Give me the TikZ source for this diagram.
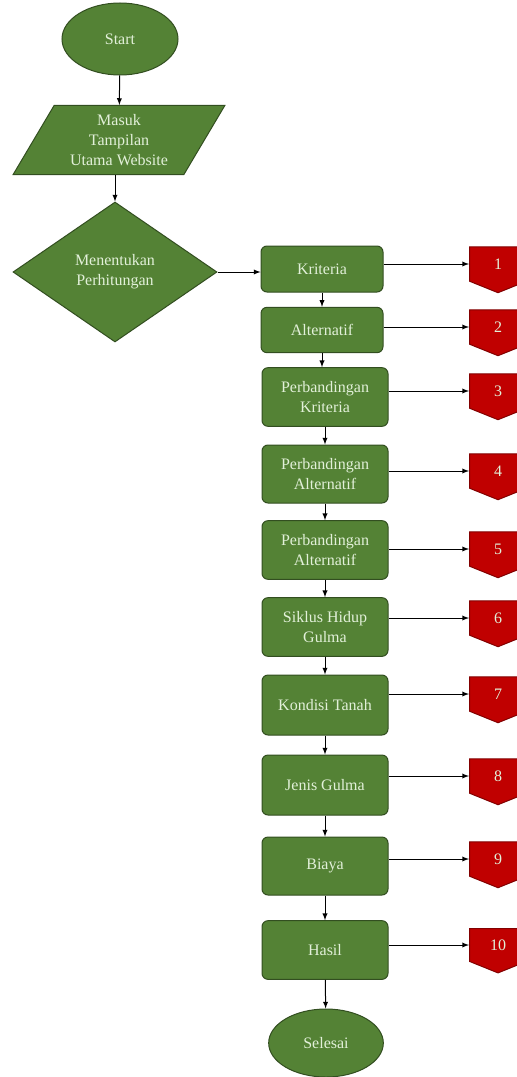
\documentclass[tikz,border=0pt]{standalone}
\usepackage{fontspec}
\setmainfont{Liberation Serif}
\usetikzlibrary{arrows,shapes,shapes.geometric,shapes.symbols,positioning}
\definecolor{boxgreen}{RGB}{84,130,53}
\definecolor{boxline}{RGB}{50,78,32}
\definecolor{boxtext}{RGB}{226,240,217}
\definecolor{pagered}{RGB}{192,0,0}
\definecolor{pageline}{RGB}{130,0,0}

\begin{document}
\begin{tikzpicture}[x=0.75pt,y=-0.75pt,>=latex,line width=0.75pt,
  proc/.style={rectangle,rounded corners=4.5pt,draw=boxline,fill=boxgreen,text=boxtext,minimum width=94.5pt,align=center,font=\fontsize{12}{15}\selectfont},
  term/.style={ellipse,draw=boxline,fill=boxgreen,text=boxtext,font=\fontsize{12}{15}\selectfont},
  offpage/.style={signal,signal to=south,signal pointer angle=136,draw=pageline,fill=pagered,text=boxtext,minimum width=42.75pt,minimum height=27pt,inner sep=0pt,font=\fontsize{12}{15}\selectfont},
  flow/.style={->,black}]
\useasboundingbox (0,0) rectangle (517,1077);

% main column
\node [term,minimum width=87pt,minimum height=54pt] (start) at (120,39) {Start};
\node [trapezium,trapezium left angle=59,trapezium right angle=121,trapezium stretches=true,
  draw=boxline,fill=boxgreen,text=boxtext,align=center,font=\fontsize{12}{15}\selectfont,
  minimum width=159pt,minimum height=51.75pt,inner sep=0pt] (masuk) at (119,140) {Masuk\\Tampilan\\Utama Website};
\node [diamond,draw=boxline,fill=boxgreen,text=boxtext,align=center,font=\fontsize{12}{15}\selectfont,
  minimum width=153pt,minimum height=105pt,inner sep=0pt] (tentu) at (115,272) {Menentukan\\Perhitungan};

% steps
\node [proc,minimum width=91.5pt,minimum height=34.5pt] (kri) at (322,269) {Kriteria};
\node [proc,minimum width=91.5pt,minimum height=34pt] (alt) at (322,330) {Alternatif};
\node [proc,minimum height=44pt] (pk) at (325,397) {Perbandingan\\Kriteria};
\node [proc,minimum height=43.5pt] (pa) at (325,474) {Perbandingan\\Alternatif};
\node [proc,minimum height=44pt] (pb) at (325,550) {Perbandingan\\Alternatif};
\node [proc,minimum height=44pt] (siklus) at (325,627) {Siklus Hidup\\Gulma};
\node [proc,minimum height=45pt] (tanah) at (325,705) {Kondisi Tanah};
\node [proc,minimum height=45pt] (jenis) at (325,785) {Jenis Gulma};
\node [proc,minimum height=43.5pt] (biaya) at (325,866) {Biaya};
\node [proc,minimum height=44pt] (hasil) at (325,950) {Hasil};
\node [term,minimum width=86pt,minimum height=51pt] (selesai) at (326,1043) {Selesai};

% off page links
\node [offpage] (p1) at (498,264) {1};
\node [offpage] (p2) at (498,327) {2};
\node [offpage] (p3) at (498,391) {3};
\node [offpage] (p4) at (498,471) {4};
\node [offpage] (p5) at (498,549) {5};
\node [offpage] (p6) at (498,618) {6};
\node [offpage] (p7) at (498,694) {7};
\node [offpage] (p8) at (498,776) {8};
\node [offpage] (p9) at (498,859) {9};
\node [offpage] (p10) at (498,945) {10};

% arrows
\draw [flow] (start) -- (masuk);
\draw [flow] (masuk.south -| tentu.north) -- (tentu.north);
\draw [flow] (tentu.east) -- (tentu.east -| kri.west);
\draw [flow] (kri.south) -- (kri.south |- alt.north);
\draw [flow] (alt.south) -- (alt.south |- pk.north);
\draw [flow] (pk) -- (pa);
\draw [flow] (pa) -- (pb);
\draw [flow] (pb) -- (siklus);
\draw [flow] (siklus) -- (tanah);
\draw [flow] (tanah) -- (jenis);
\draw [flow] (jenis) -- (biaya);
\draw [flow] (biaya) -- (hasil);
\draw [flow] (hasil) -- (selesai);

\draw [flow] (p1.west -| kri.east) -- (p1.west);
\draw [flow] (p2.west -| alt.east) -- (p2.west);
\draw [flow] (p3.west -| pk.east) -- (p3.west);
\draw [flow] (p4.west -| pa.east) -- (p4.west);
\draw [flow] (p5.west -| pb.east) -- (p5.west);
\draw [flow] (p6.west -| siklus.east) -- (p6.west);
\draw [flow] (p7.west -| tanah.east) -- (p7.west);
\draw [flow] (p8.west -| jenis.east) -- (p8.west);
\draw [flow] (p9.west -| biaya.east) -- (p9.west);
\draw [flow] (p10.west -| hasil.east) -- (p10.west);
\end{tikzpicture}
\end{document}
